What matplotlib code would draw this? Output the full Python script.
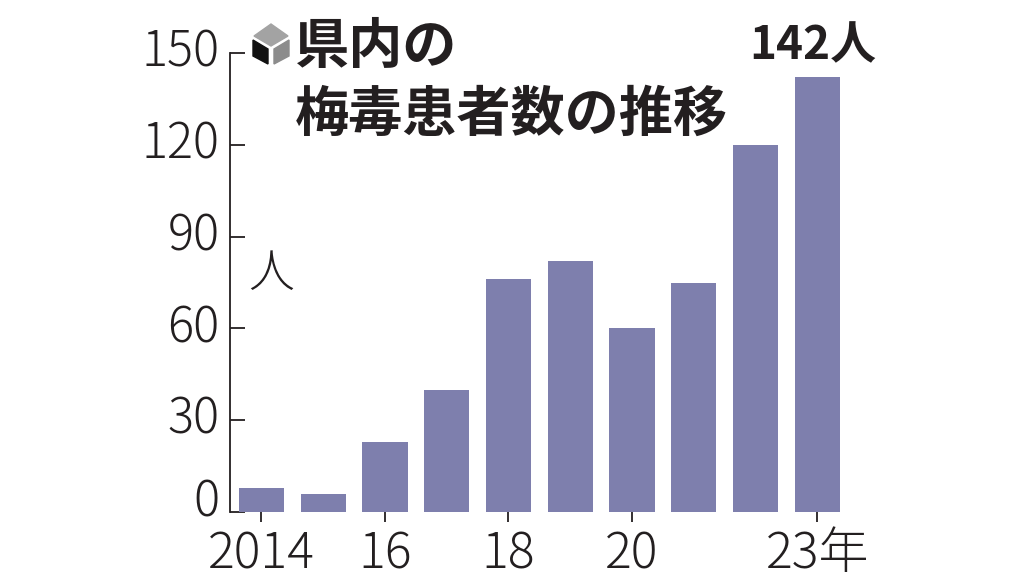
"""Prefectural syphilis patient counts, 2014-2023."""

import matplotlib
matplotlib.use("Agg")
import matplotlib.pyplot as plt
from matplotlib.patches import Polygon
from matplotlib.transforms import ScaledTranslation

plt.rcParams["font.family"] = ["Noto Sans CJK JP", "DejaVu Sans"]

W, H = 1024, 576

years = [2014, 2015, 2016, 2017, 2018, 2019, 2020, 2021, 2022, 2023]
patients = [8, 6, 23, 40, 76, 82, 60, 75, 120, 142]
y_ticks = [0, 30, 60, 90, 120, 150]
x_ticks = [2014, 2016, 2018, 2020, 2023]
x_tick_labels = ["2014", "16", "18", "20", "23年"]

BAR_COLOR = "#7e7fad"
TEXT_COLOR = "#231f20"

fig = plt.figure(figsize=(W / 100, H / 100), dpi=100)
ax = fig.add_axes([230 / W, 1 - 512 / H, (845 - 230) / W, (512 - 53) / H])

ax.bar(years, patients, width=0.73, color=BAR_COLOR, zorder=3)

ax.set_xlim(2013.49, 2023.45)
ax.set_ylim(0, 150)
ax.set_yticks(y_ticks)
ax.set_xticks(x_ticks)
ax.set_xticklabels(x_tick_labels)

# y ticks point inward, x ticks hang below the bars
ax.tick_params(axis="y", length=11, width=1.3, direction="in", color=TEXT_COLOR,
               labelsize=35, labelcolor=TEXT_COLOR, pad=7.5)
ax.tick_params(axis="x", length=7, width=1.3, direction="out", color=TEXT_COLOR,
               labelsize=36, labelcolor=TEXT_COLOR, pad=5)
for label in ax.get_yticklabels() + ax.get_xticklabels():
    label.set_fontweight("light")

# labels sit above their ticks in the original, the zero most of all
for value, label in zip(y_ticks, ax.get_yticklabels()):
    shift = 15 if value == 0 else 6
    label.set_transform(label.get_transform()
                        + ScaledTranslation(0, shift / 100, fig.dpi_scale_trans))

ax.spines["top"].set_visible(False)
ax.spines["right"].set_visible(False)
ax.spines["bottom"].set_visible(False)
ax.spines["left"].set_linewidth(1.3)
ax.spines["left"].set_color(TEXT_COLOR)

# title, unit and end-of-series label
fig.text(295 / W, 1 - 47 / H, "県内の", fontsize=39, fontweight="bold",
         color=TEXT_COLOR, ha="left", va="center")
fig.text(295 / W, 1 - 115 / H, "梅毒患者数の推移", fontsize=39, fontweight="bold",
         color=TEXT_COLOR, ha="left", va="center")
fig.text(271 / W, 1 - 274 / H, "人", fontsize=33, fontweight="light",
         color=TEXT_COLOR, ha="center", va="center")
fig.text(813 / W, 1 - 46 / H, "142人", fontsize=33, fontweight="bold",
         color=TEXT_COLOR, ha="center", va="center")


# small cube mark beside the title
def px(points):
    return [(x / W, 1 - y / H) for x, y in points]


fig.add_artist(Polygon(px([(254, 36), (271, 24), (288, 36), (271, 46)]),
                       transform=fig.transFigure, color="#a3a3a3"))
fig.add_artist(Polygon(px([(253, 40), (268, 49), (268, 64), (253, 56)]),
                       transform=fig.transFigure, color="#111111"))
fig.add_artist(Polygon(px([(289, 40), (274, 49), (274, 64), (289, 56)]),
                       transform=fig.transFigure, color="#8c8c8c"))

fig.savefig("out.png", dpi=100)
